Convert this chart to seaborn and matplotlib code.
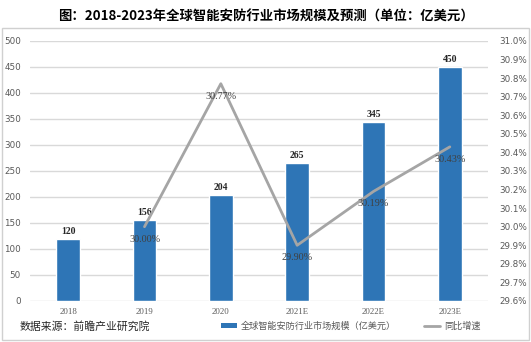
import matplotlib
matplotlib.use("Agg")
import matplotlib.pyplot as plt
from matplotlib.patches import Patch, Rectangle
from matplotlib.lines import Line2D
import numpy as np
import pandas as pd
import seaborn as sns

# Market size and year-on-year growth
years = ["2018", "2019", "2020", "2021E", "2022E", "2023E"]
market_size = [120, 156, 204, 265, 345, 450]
growth_pct = [np.nan, 30.00, 30.77, 29.90, 30.19, 30.43]
left_ticks = [0, 50, 100, 150, 200, 250, 300, 350, 400, 450, 500]
right_ticks = [29.6, 29.7, 29.8, 29.9, 30.0, 30.1, 30.2, 30.3, 30.4, 30.5, 30.6, 30.7, 30.8, 30.9, 31.0]

title = "图：2018-2023年全球智能安防行业市场规模及预测（单位：亿美元）"
source = "数据来源：前瞻产业研究院"
bar_name = "全球智能安防行业市场规模（亿美元）"
line_name = "同比增速"

sns.set_theme(style="white")
plt.rcParams["font.family"] = ["Noto Sans CJK SC", "DejaVu Sans"]

bar_color = "#2e75b6"
line_color = "#a5a5a5"
tick_color = "#595959"

df = pd.DataFrame({"year": years, "size": market_size, "growth": growth_pct,
                   "pos": np.arange(len(years))})

fig = plt.figure(figsize=(5.31, 3.42), dpi=100)
ax = fig.add_axes([30 / 531, 1 - 301 / 342, 458 / 531, 260 / 342])

sns.barplot(data=df, x="year", y="size", color=bar_color, width=0.31,
            saturation=1, ax=ax, zorder=3)
ax.set_ylim(0, 500)
ax.set_xlim(-0.5, len(years) - 0.5)
ax.set_yticks(left_ticks)
ax.yaxis.grid(True, color="#d9d9d9", linewidth=1.0, zorder=0)
ax.set_axisbelow(True)
ax.set_xlabel("")
ax.set_ylabel("")
for s in ax.spines.values():
    s.set_visible(False)
ax.tick_params(axis="x", length=0, labelsize=6.3, colors=tick_color, pad=5)
ax.tick_params(axis="y", length=0, labelsize=6.3, colors=tick_color, pad=6.5)
for lab in ax.get_xticklabels():
    lab.set_family("Liberation Serif")
for lab in ax.get_yticklabels():
    lab.set_family("DejaVu Sans")

for i, v in enumerate(market_size):
    ax.annotate(f"{v}", (i, v), xytext=(0, 2), textcoords="offset points",
                ha="center", va="bottom", fontsize=7, family="Liberation Serif",
                fontweight="bold", color="#262626")

ax2 = ax.twinx()
sns.lineplot(data=df.dropna(), x="pos", y="growth", color=line_color,
             linewidth=2, ax=ax2, zorder=4)
ax2.set_ylim(29.6, 31.0)
ax2.set_yticks(right_ticks)
ax2.set_yticklabels([f"{t:.1f}%" for t in right_ticks])
ax2.set_xlim(-0.5, len(years) - 0.5)
ax2.set_xlabel("")
ax2.set_ylabel("")
for s in ax2.spines.values():
    s.set_visible(False)
ax2.tick_params(axis="y", length=0, labelsize=6.3, colors=tick_color, pad=8)
for lab in ax2.get_yticklabels():
    lab.set_family("DejaVu Sans")

for i, g in enumerate(growth_pct):
    if np.isnan(g):
        continue
    ax2.annotate(f"{g:.2f}%", (i, g), xytext=(0, -9), textcoords="offset points",
                 ha="center", va="center", fontsize=7.3, family="Liberation Serif",
                 color="#404040", zorder=5)

fig.text(0.5, 1 - 17 / 342, title, ha="center", va="center",
         fontsize=9.6, fontweight="bold", color="#000000")
fig.text(20 / 531, 1 - 326 / 342, source, ha="left", va="center",
         fontsize=7.8, color="#262626")

handles = [Patch(facecolor=bar_color, edgecolor="none"),
           Line2D([0], [0], color=line_color, linewidth=2)]
fig.legend(handles, [bar_name, line_name], loc="center",
           bbox_to_anchor=(0.66, 1 - 326 / 342), ncol=2, frameon=False,
           fontsize=6.6, handlelength=1.8, handleheight=0.5,
           columnspacing=3.0, handletextpad=0.4, labelcolor="#595959")

fig.patches.append(Rectangle((2 / 531, 1 - 340 / 342), 527 / 531, 312 / 342,
                             transform=fig.transFigure, fill=False,
                             edgecolor="#d0d0d0", linewidth=1.0))

fig.savefig("out.png", dpi=100)
